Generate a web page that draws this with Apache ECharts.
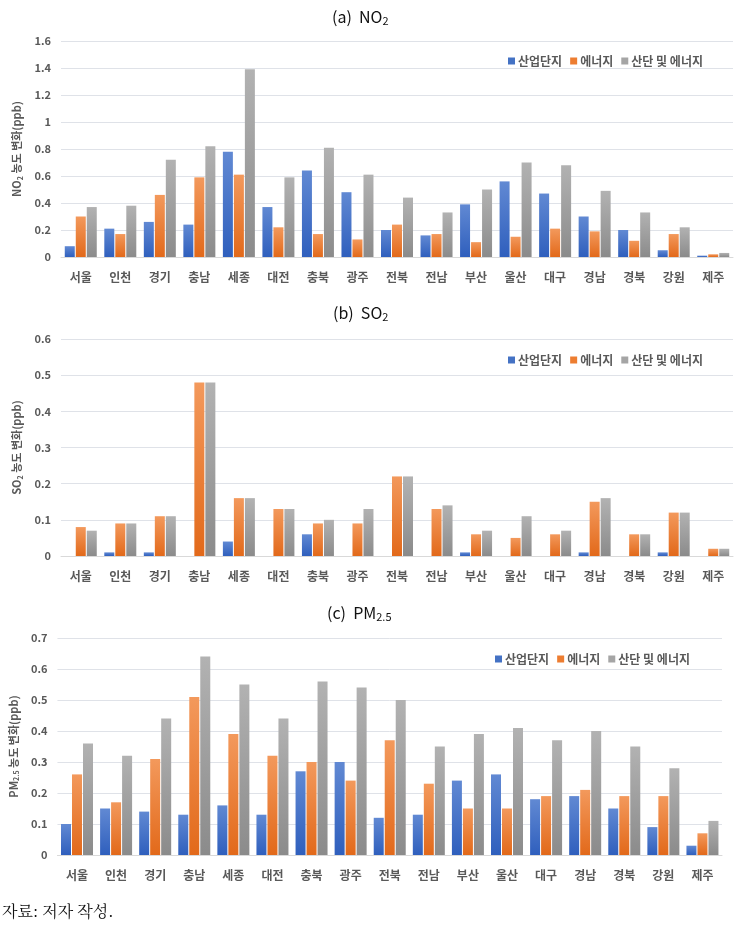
<!DOCTYPE html>
<html><head><meta charset="utf-8">
<script src="https://cdn.jsdelivr.net/npm/echarts@6/dist/echarts.min.js"></script>
<style>html,body{margin:0;padding:0;background:#fff}#c{width:744px;height:937px}</style>
</head><body><div id="c"></div>
<script>
const categories = ['서울','인천','경기','충남','세종','대전','충북','광주','전북','전남','부산','울산','대구','경남','경북','강원','제주'];
const seriesNames = ['산업단지','에너지','산단 및 에너지'];

const no2Industrial = [0.08,0.21,0.26,0.24,0.78,0.37,0.64,0.48,0.20,0.16,0.39,0.56,0.47,0.30,0.20,0.05,0.01];
const no2Energy     = [0.30,0.17,0.46,0.59,0.61,0.22,0.17,0.13,0.24,0.17,0.11,0.15,0.21,0.19,0.12,0.17,0.02];
const no2Both       = [0.37,0.38,0.72,0.82,1.39,0.59,0.81,0.61,0.44,0.33,0.50,0.70,0.68,0.49,0.33,0.22,0.03];

const so2Industrial = [0,0.01,0.01,0,0.04,0,0.06,0,0,0,0.01,0,0,0.01,0,0.01,0];
const so2Energy     = [0.08,0.09,0.11,0.48,0.16,0.13,0.09,0.09,0.22,0.13,0.06,0.05,0.06,0.15,0.06,0.12,0.02];
const so2Both       = [0.07,0.09,0.11,0.48,0.16,0.13,0.10,0.13,0.22,0.14,0.07,0.11,0.07,0.16,0.06,0.12,0.02];

const pmIndustrial = [0.10,0.15,0.14,0.13,0.16,0.13,0.27,0.30,0.12,0.13,0.24,0.26,0.18,0.19,0.15,0.09,0.03];
const pmEnergy     = [0.26,0.17,0.31,0.51,0.39,0.32,0.30,0.24,0.37,0.23,0.15,0.15,0.19,0.21,0.19,0.19,0.07];
const pmBoth       = [0.36,0.32,0.44,0.64,0.55,0.44,0.56,0.54,0.50,0.35,0.39,0.41,0.37,0.40,0.35,0.28,0.11];

const solid = ['#4472C4','#ED7D31','#A5A5A5'];
const grads = [['#6189d3','#2f5fbd'],['#f3995c','#e2691a'],['#b2b2b2','#8b8b8b']];
function grad(i){return new echarts.graphic.LinearGradient(0,0,0,1,[{offset:0,color:grads[i][0]},{offset:1,color:grads[i][1]}]);}

const txt = '#595959';
const panels = [
  {title:'(a)  NO', sub:'2', titleLeft:327, titleTop:2, grid:{left:61,right:11,top:41,height:216}, max:1.6, interval:0.2,
   yname:['NO','2',' 농도 변화(ppb)'], legend:{left:503,top:50}, data:[no2Industrial,no2Energy,no2Both]},
  {title:'(b)  SO', sub:'2', titleLeft:328, titleTop:298, grid:{left:61,right:11,top:339,height:217}, max:0.6, interval:0.1,
   yname:['SO','2',' 농도 변화(ppb)'], legend:{left:503,top:349}, data:[so2Industrial,so2Energy,so2Both]},
  {title:'(c)  PM', sub:'2.5', titleLeft:322, titleTop:598, grid:{left:50,right:22,top:638,height:217}, max:0.7, interval:0.1,
   yname:['PM','2.5',' 농도 변화(ppb)'], legend:{left:490,top:648}, data:[pmIndustrial,pmEnergy,pmBoth]}
];

const fam = '"Noto Sans CJK KR","Noto Sans",sans-serif';
const option = {backgroundColor:'#fff', animation:false, title:[], grid:[], xAxis:[], yAxis:[], legend:[], series:[],
  graphic:[{type:'text', left:2, top:903, style:{text:'자료: 저자 작성.', font:'16px "Noto Serif CJK KR","Noto Sans CJK KR",serif', fill:'#111'}}]};

panels.forEach((p,k)=>{
  option.title.push({text:'{t|'+p.title+'}{s|'+p.sub+'}', left:p.titleLeft, top:p.titleTop,
    textStyle:{rich:{t:{fontSize:16,fontFamily:fam,color:'#111',fontWeight:'normal'},
                     s:{fontSize:11,fontFamily:fam,color:'#111',fontWeight:'normal',padding:[8,0,0,0]}}}});
  option.grid.push(p.grid);
  option.xAxis.push({type:'category', gridIndex:k, data:categories,
    axisLine:{lineStyle:{color:'#d9d9d9'}}, axisTick:{show:false},
    axisLabel:{color:txt, fontWeight:'bold', fontSize:12, fontFamily:fam, margin:14}});
  option.yAxis.push({type:'value', gridIndex:k, min:0, max:p.max, interval:p.interval,
    name:'{n|'+p.yname[0]+'}{s|'+p.yname[1]+'}{n|'+p.yname[2]+'}', nameLocation:'middle', nameRotate:90, nameGap:36,
    nameTextStyle:{rich:{n:{fontSize:11,fontWeight:'bold',color:txt,fontFamily:fam},
                         s:{fontSize:7,fontWeight:'bold',color:txt,fontFamily:fam,padding:[6,0,0,0]}}},
    axisLabel:{color:txt, fontWeight:'bold', fontSize:11, fontFamily:fam, margin:10},
    splitLine:{lineStyle:{color:'#dfe2e8'}}, axisLine:{show:false}, axisTick:{show:false}});
  option.legend.push({left:p.legend.left, top:p.legend.top, itemWidth:7, itemHeight:7, itemGap:8,
    icon:'rect', textStyle:{color:txt, fontWeight:'bold', fontSize:12, fontFamily:fam, padding:[0,0,0,-2]},
    data:seriesNames.map((n,i)=>({name:n, itemStyle:{color:solid[i]}}))});
  seriesNames.forEach((n,i)=>{
    option.series.push({type:'bar', name:n, xAxisIndex:k, yAxisIndex:k, data:p.data[i],
      barWidth:10, barGap:'10%', itemStyle:{color:grad(i)}});
  });
});

const chart = echarts.init(document.getElementById('c'), null, {renderer:'canvas'});
chart.setOption(option);
</script></body></html>
